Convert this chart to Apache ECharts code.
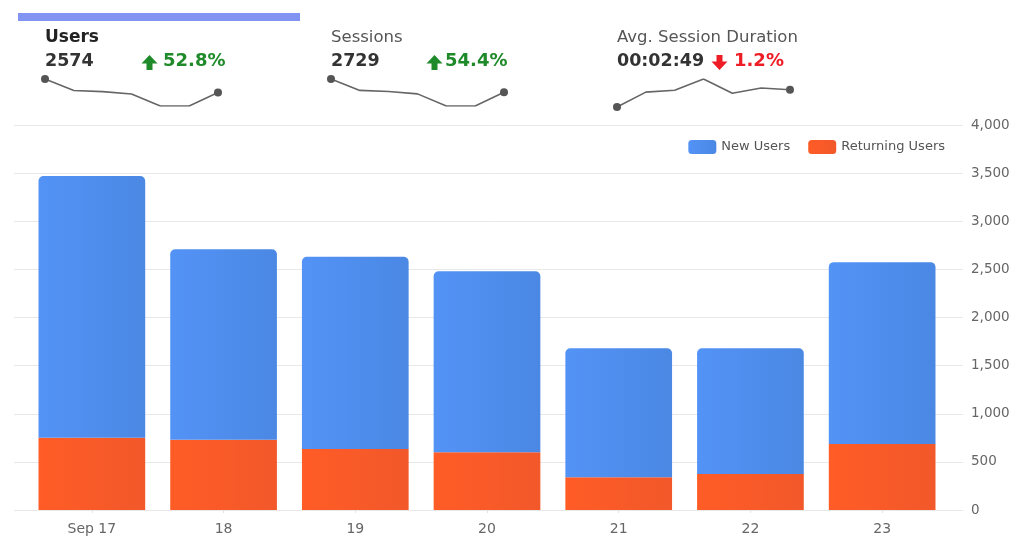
<!DOCTYPE html>
<html><head><meta charset="utf-8">
<script src="https://cdn.jsdelivr.net/npm/echarts@6/dist/echarts.min.js"></script>
<style>html,body{margin:0;padding:0;background:#fff}#c{width:1024px;height:550px}</style>
</head><body><div id="c"></div>
<script>
var categories = ['Sep 17','18','19','20','21','22','23'];
var returningUsers = [750, 730, 635, 600, 340, 375, 685];
var newUsers = [2720, 1980, 1995, 1880, 1340, 1305, 1890];
var yTicks = {min:0, max:4000, interval:500};
var usersSpark = [3470, 2710, 2630, 2480, 1680, 1680, 2575];
var sessionsSpark = [3650, 2860, 2780, 2620, 1780, 1780, 2729];
var durationSpark = [140, 165, 168, 187, 163, 172, 169];
var kpis = [
  {title:'Users', value:'2574', change:'52.8%', up:true},
  {title:'Sessions', value:'2729', change:'54.4%', up:true},
  {title:'Avg. Session Duration', value:'00:02:49', change:'1.2%', up:false}
];

var FONT = 'DejaVu Sans';
var chart = echarts.init(document.getElementById('c'));

function sparkData(arr){
  return arr.map(function(v,i){
    var end = (i===0 || i===arr.length-1);
    return {value:v, symbol: end ? 'circle' : 'none', symbolSize: end ? 8 : 0};
  });
}
function arrow(cx, top, up, color){
  var h=15, hw=8, sw=3, headH=8.5;
  var pts;
  if(up){
    pts=[[cx,top],[cx+hw,top+headH],[cx+sw,top+headH],[cx+sw,top+h],[cx-sw,top+h],[cx-sw,top+headH],[cx-hw,top+headH]];
  } else {
    pts=[[cx,top+h],[cx+hw,top+h-headH],[cx+sw,top+h-headH],[cx+sw,top],[cx-sw,top],[cx-sw,top+h-headH],[cx-hw,top+h-headH]];
  }
  return {type:'polygon', shape:{points:pts}, style:{fill:color}, silent:true};
}

var kx = [45, 331, 617];
var arrowX = [149.5, 434.5, 719.5];
var changeX = [163, 445, 734];
var graphics = [
  {type:'rect', shape:{x:18, y:13, width:282, height:8}, style:{fill:'#8194f2'}, silent:true}
];
kpis.forEach(function(k,i){
  var color = k.up ? '#1f8a2a' : '#ee1c25';
  graphics.push({type:'text', x:kx[i], y:38, style:{text:k.title, fontFamily:FONT, fontSize:i===0?17:16.5, fontWeight:i===0?'bold':'normal', fill:i===0?'#222':'#555', textVerticalAlign:'middle'}, silent:true});
  graphics.push({type:'text', x:kx[i], y:61, style:{text:k.value, fontFamily:FONT, fontSize:17.5, fontWeight:'bold', fill:'#333', textVerticalAlign:'middle'}, silent:true});
  graphics.push(arrow(arrowX[i], 55, k.up, color));
  graphics.push({type:'text', x:changeX[i], y:61, style:{text:k.change, fontFamily:FONT, fontSize:18, fontWeight:'bold', fill:color, textVerticalAlign:'middle'}, silent:true});
});

var blueGrad = new echarts.graphic.LinearGradient(0,0,1,0,[{offset:0,color:'#5393f6'},{offset:1,color:'#4b88e4'}]);
var orangeGrad = new echarts.graphic.LinearGradient(0,0,1,0,[{offset:0,color:'#ff5c26'},{offset:1,color:'#f2582a'}]);

var sparkLine = {color:'#666', width:1.6};
var option = {
  animation:false,
  textStyle:{fontFamily:FONT},
  graphic: graphics,
  legend:{
    data:['New Users','Returning Users'],
    right:74, top:135, itemWidth:28, itemHeight:14, itemGap:18,
    textStyle:{fontSize:13, color:'#555', fontFamily:FONT},
    icon:'roundRect'
  },
  grid:[
    {left:14, right:61, top:125, bottom:40},
    {left:26, right:76, top:125, bottom:40},
    {left:45, width:173, top:79, height:27},
    {left:331, width:173, top:79, height:27},
    {left:617, width:173, top:79, height:28}
  ],
  xAxis:[
    {gridIndex:0, type:'value', show:false},
    {gridIndex:1, type:'category', data:categories,
     axisLine:{show:false}, axisTick:{show:true, alignWithLabel:true, length:3, lineStyle:{color:'#e4e4e4'}},
     axisLabel:{color:'#666', fontSize:14, margin:12, fontFamily:FONT}},
    {gridIndex:2, type:'category', show:false, boundaryGap:false, data:categories},
    {gridIndex:3, type:'category', show:false, boundaryGap:false, data:categories},
    {gridIndex:4, type:'category', show:false, boundaryGap:false, data:categories}
  ],
  yAxis:[
    {gridIndex:0, type:'value', position:'right', min:yTicks.min, max:yTicks.max, interval:yTicks.interval,
     axisLine:{show:false}, axisTick:{show:false},
     splitLine:{lineStyle:{color:'#e8e8e8', width:1}},
     axisLabel:{color:'#666', fontSize:13.5, margin:8, fontFamily:FONT,
       formatter:function(v){return v.toLocaleString('en-US');}}},
    {gridIndex:1, type:'value', min:yTicks.min, max:yTicks.max, interval:yTicks.interval, show:false},
    {gridIndex:2, type:'value', show:false, min:'dataMin', max:'dataMax'},
    {gridIndex:3, type:'value', show:false, min:'dataMin', max:'dataMax'},
    {gridIndex:4, type:'value', show:false, min:'dataMin', max:'dataMax'}
  ],
  series:[
    {name:'Returning Users', type:'bar', stack:'u', xAxisIndex:1, yAxisIndex:1, barWidth:'81%',
     data:returningUsers, itemStyle:{color:orangeGrad}, color:'#ff5a26'},
    {name:'New Users', type:'bar', stack:'u', xAxisIndex:1, yAxisIndex:1, barWidth:'81%',
     data:newUsers, itemStyle:{color:blueGrad, borderRadius:[5,5,0,0]}, color:'#4f8ef2'},
    {type:'line', xAxisIndex:2, yAxisIndex:2, data:sparkData(usersSpark), lineStyle:sparkLine, itemStyle:{color:'#555'}, silent:true},
    {type:'line', xAxisIndex:3, yAxisIndex:3, data:sparkData(sessionsSpark), lineStyle:sparkLine, itemStyle:{color:'#555'}, silent:true},
    {type:'line', xAxisIndex:4, yAxisIndex:4, data:sparkData(durationSpark), lineStyle:sparkLine, itemStyle:{color:'#555'}, silent:true}
  ]
};
chart.setOption(option);
</script></body></html>
